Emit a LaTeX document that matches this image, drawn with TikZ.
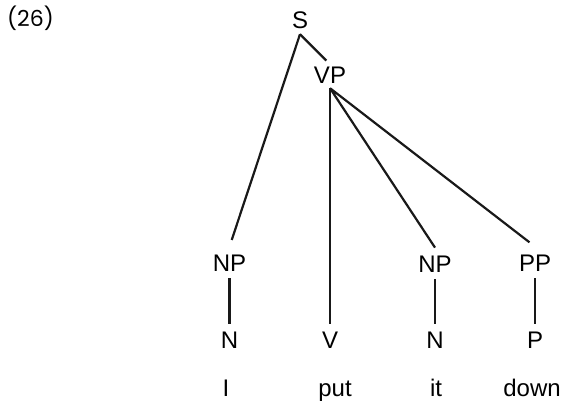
\documentclass[tikz,border=0pt]{standalone}
\usepackage{fontspec}
\setmainfont{Liberation Sans}
\newfontfamily\numfont{Poppins}

\begin{document}
\begin{tikzpicture}[x=1pt, y={(0pt,-1pt)}]

        % Setup the styles for the labels and branches
        \tikzset{cat style/.style={anchor=base,
                                   font=\fontsize{24}{28}\selectfont,
                                   text height=17.2pt,
                                   text depth=0pt,
                                   inner xsep=2pt,
                                   inner ysep=7pt
                                   },
                 word style/.style={anchor=base,
                                    font=\fontsize{24}{28}\selectfont
                                    },
                 branch/.style={line width=2.2pt,
                                color=black!90
                                }}

        \useasboundingbox (0, 0) rectangle (567, 404);

        % Example number
        \node[anchor=base west, inner sep=0pt,
              font=\numfont\fontsize{22}{26}\selectfont] at (7, 27) (num) {(26)};

        % Draw the categories
        \node[cat style, inner ysep=5pt] at (300, 29)  (S)   {S};
        \node[cat style, inner ysep=5pt] at (330, 83)  (VP)  {VP};
        \node[cat style] at (229.5, 271) (NPa) {NP};
        \node[cat style] at (435, 272)   (NPb) {NP};
        \node[cat style] at (535, 271)   (PP)  {PP};
        \node[cat style] at (229.5, 348) (Na)  {N};
        \node[cat style] at (330, 348)   (V)   {V};
        \node[cat style] at (435, 348)   (Nb)  {N};
        \node[cat style] at (535, 348)   (P)   {P};

        % Draw the words
        \node[word style] at (226, 396) (I)    {I};
        \node[word style] at (335, 396) (put)  {put};
        \node[word style] at (436, 396) (it)   {it};
        \node[word style] at (532, 396) (down) {down};

        % Connect the categories with branches
        \draw[branch] (S.south)  -- (VP.105);
        \draw[branch, shorten >=7pt] (S.south) -- (NPa.north);
        \draw[branch] (VP.south) -- (V.north);
        \draw[branch, shorten >=7pt]
            (VP.south) -- (NPb.north)
            (VP.south) -- (PP.north);
        \draw[branch]
            (NPa.south) -- (Na.north)
            (NPb.south) -- (Nb.north)
            (PP.south)  -- (P.north);
      \end{tikzpicture}
\end{document}
